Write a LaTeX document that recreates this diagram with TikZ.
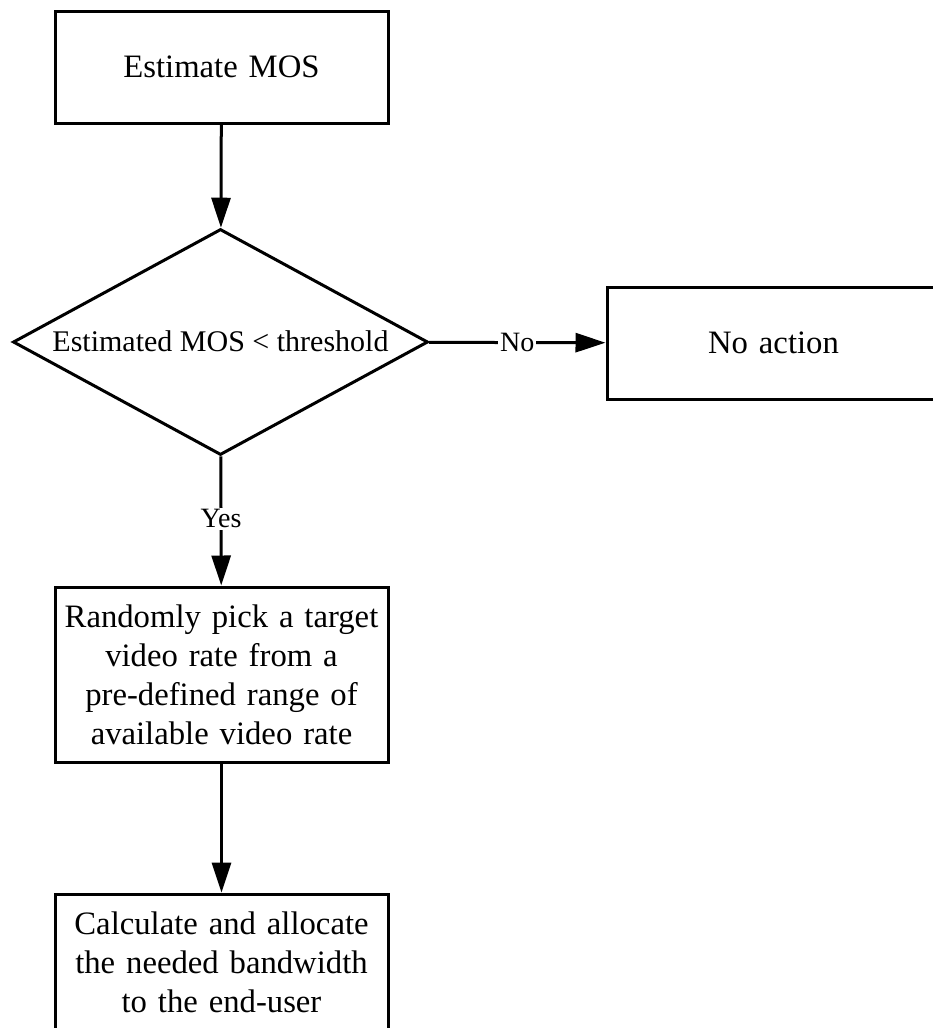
\documentclass[tikz,border=0pt]{standalone}
\usepackage{fontspec}
\setmainfont{Liberation Serif}
\usetikzlibrary{shapes.geometric,arrows.meta}
\begin{document}
\begin{tikzpicture}[x=1pt,y=-1pt,
  box/.style={draw, line width=3pt, minimum width=333pt, inner sep=0pt,
    text width=320pt, align=center, font=\fontsize{32.7}{39}\selectfont},
  decision/.style={draw, diamond, line width=3pt, minimum width=415pt,
    minimum height=226pt, inner sep=0pt},
  flow/.style={line width=3pt, -{Triangle[length=30pt,width=19pt]}},
  lbl/.style={fill=white, inner sep=2pt, font=\fontsize{28}{32}\selectfont}]
\useasboundingbox (0,0) rectangle (932,1028);

% process steps
\node[box, minimum height=112pt] (est) at (221.5,67) {Estimate MOS};
\node[decision] (dec) at (220.5,342) {};
\node[font=\fontsize{30}{34}\selectfont] (dectext) at (220.5,341) {Estimated MOS < threshold};
\node[box, minimum height=112pt] (none) at (773.5,343) {No action};
\node[box, minimum height=175pt] (pick) at (221.5,674.5)
  {Randomly pick a target\\video rate from a\\pre-defined range of\\available video rate};
\node[box, minimum height=136pt] (alloc) at (221.5,962)
  {Calculate and allocate\\the needed bandwidth\\to the end-user};

% connectors
\draw[flow] (est) -- (dec);
\draw[flow] (dec) -- node[lbl] (no) {No} (none);
\draw[flow] (dec) -- node[lbl, yshift=2pt] (yes) {Yes} (pick);
\draw[flow] (pick) -- (alloc);
\end{tikzpicture}
\end{document}
